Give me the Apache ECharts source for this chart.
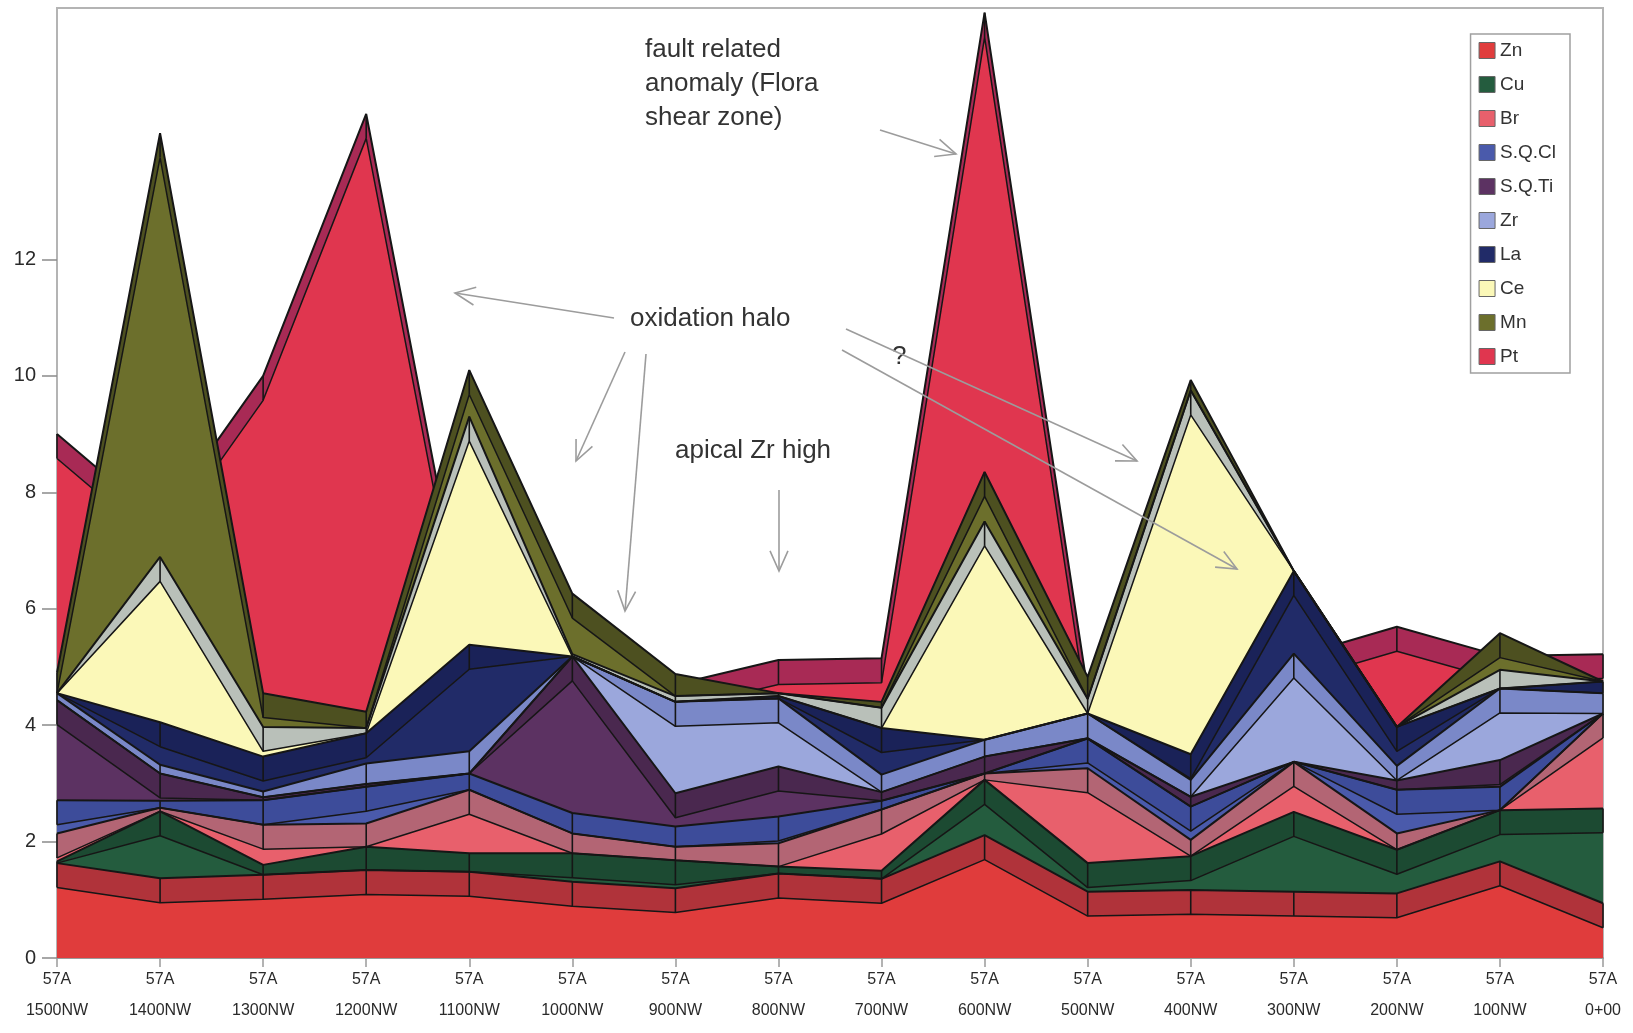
<!DOCTYPE html>
<html><head><meta charset="utf-8">
<script src="https://cdn.jsdelivr.net/npm/echarts@6/dist/echarts.min.js"></script>
<style>html,body{margin:0;padding:0;background:#fff}#c{width:1633px;height:1033px}</style>
</head><body><div id="c"></div>
<script>
// ---- data ----
const categories = ['57A\n1500NW','57A\n1400NW','57A\n1300NW','57A\n1200NW','57A\n1100NW','57A\n1000NW','57A\n900NW','57A\n800NW',
  '57A\n700NW','57A\n600NW','57A\n500NW','57A\n400NW','57A\n300NW','57A\n200NW','57A\n100NW','57A\n0+00'];
const elements = ['Zn','Cu','Br','S.Q.Cl','S.Q.Ti','Zr','La','Ce','Mn','Pt'];
// front rows (stacked)
const zn  = [1.63,1.37,1.43,1.51,1.48,1.31,1.20,1.45,1.36,2.11,1.14,1.17,1.14,1.11,1.66,0.94];
const cu  = [0.03,1.15,0.17,0.40,0.32,0.49,0.48,0.12,0.14,0.95,0.49,0.58,1.37,0.75,0.88,1.63];
const br  = [0.48,0.06,0.69,0.40,1.09,0.34,0.23,0.40,1.05,0.11,1.63,0.28,0.86,0.28,0.00,1.63];
const sqcl= [0.57,0.12,0.42,0.63,0.28,0.35,0.35,0.46,0.15,0.00,0.51,0.57,0.00,0.75,0.40,0.00];
const sqti= [1.72,0.47,0.05,0.05,0.00,2.69,0.57,0.86,0.15,0.29,0.00,0.17,0.00,0.16,0.46,0.00];
const zr  = [0.12,0.15,0.10,0.35,0.38,0.00,1.57,1.17,0.30,0.29,0.43,0.29,1.86,0.25,1.23,0.35];
const la  = [0.00,0.73,0.60,0.52,1.83,0.00,0.00,0.04,0.80,0.00,0.00,0.44,1.42,0.67,0.00,0.20];
const ce  = [0.00,2.84,0.51,0.09,3.92,0.04,0.10,0.05,0.35,3.75,0.25,6.25,0.00,0.00,0.32,0.00];
const mn  = [0.35,7.28,0.58,0.28,0.80,1.04,0.38,0.00,0.10,0.85,0.38,0.18,0.00,0.00,0.63,0.00];
// back row (drawn from zero, behind the others)
const pt  = [9.00,7.50,10.00,14.50,5.30,5.00,4.70,5.12,5.15,16.24,4.60,4.80,5.17,5.69,5.19,5.22];
const yTickValues = [0,2,4,6,8,10,12];

// ---- styles ----
const frontValues = [zn,cu,br,sqcl,sqti,zr,la,ce,mn];
const bodyColors = ['#e03c3c','#245c3e','#e8606c','#4a5aab','#5c3262','#9ba7dc','#212b68','#fbf8b8','#6c6f2c','#e0364f'];
const faceColors = ['#b0333a','#1c4a32','#b36574','#3d4c9a','#4a284f','#7a88c8','#1a2258','#b9c0b9','#4d5020','#a82a55'];
const FACE = 0.42;
const EDGE = '#161616';
const FONT = '"Liberation Sans", Arial, sans-serif';

function pair(name, vals, i, stack, z) {
  return [{
    name: name, type: 'line', stack: stack, symbol: 'none', silent: true, z: z,
    data: vals.map(v => +Math.max(v - FACE, 0).toFixed(3)),
    lineStyle: {color: EDGE, width: 1.5},
    itemStyle: {color: bodyColors[i]},
    areaStyle: {color: bodyColors[i], opacity: 1},
    emphasis: {disabled: true}
  }, {
    name: name + ' top', type: 'line', stack: stack, symbol: 'none', silent: true, z: z,
    data: vals.map(v => +Math.min(v, FACE).toFixed(3)),
    lineStyle: {color: EDGE, width: 2},
    itemStyle: {color: faceColors[i]},
    areaStyle: {color: faceColors[i], opacity: 1},
    emphasis: {disabled: true}
  }];
}
let series = [].concat(pair('Pt', pt, 9, 'back', 1));
elements.slice(0, 9).forEach((name, i) => { series = series.concat(pair(name, frontValues[i], i, 'front', 2)); });

// vertical 3D edges across each visible top face, at each category
series.push({
  type: 'custom', silent: true, z: 5,
  data: categories.map((c, i) => [i]),
  renderItem: function (params, api) {
    const idx = api.value(0);
    let cum = 0;
    const children = [];
    const seg = (top, bot) => {
      const p1 = api.coord([idx, top]), p2 = api.coord([idx, bot]);
      children.push({type: 'line', shape: {x1: p1[0], y1: p1[1], x2: p2[0], y2: p2[1]},
        style: {stroke: EDGE, lineWidth: 1.6}});
    };
    frontValues.forEach(vals => {
      const v = vals[idx];
      if (v > 0) seg(cum + v, cum + v - Math.min(v, FACE));
      cum += v;
    });
    if (pt[idx] > cum + 0.02) seg(pt[idx], Math.max(cum, pt[idx] - FACE));
    return {type: 'group', children: children};
  }
});

function arrow(x1, y1, x2, y2) {
  const ang = Math.atan2(y2 - y1, x2 - x1), L = 22, a = 0.42;
  const b1 = [x2 - L * Math.cos(ang - a), y2 - L * Math.sin(ang - a)];
  const b2 = [x2 - L * Math.cos(ang + a), y2 - L * Math.sin(ang + a)];
  return [
    {type: 'line', z: 100, shape: {x1, y1, x2, y2}, style: {stroke: '#9c9c9c', lineWidth: 1.6}},
    {type: 'polyline', z: 100, shape: {points: [b1, [x2, y2], b2]}, style: {stroke: '#9c9c9c', lineWidth: 1.6, fill: null}}
  ];
}
function label(text, x, y) {
  return {type: 'text', z: 100, x: x, y: y, style: {text: text, fill: '#333', fontSize: 26, fontFamily: FONT, verticalAlign: 'middle'}};
}
const graphics = [
  label('fault related', 645, 50), label('anomaly (Flora', 645, 84), label('shear zone)', 645, 118),
  label('oxidation halo', 630, 319), label('?', 892, 357), label('apical Zr high', 675, 451)
].concat(
  arrow(614, 318, 455, 293), arrow(625, 352, 576, 461), arrow(646, 354, 625, 611),
  arrow(779, 490, 779, 571), arrow(880, 130, 956, 154),
  arrow(846, 329, 1137, 461), arrow(842, 350, 1237, 569)
);

const chart = echarts.init(document.getElementById('c'), null, {renderer: 'canvas'});
chart.setOption({
  animation: false,
  backgroundColor: '#fff',
  grid: {left: 57, right: 30, top: 8, bottom: 75, show: true, borderColor: '#b4b4b4', borderWidth: 2, backgroundColor: 'transparent'},
  legend: {
    orient: 'vertical', right: 63, top: 34, icon: 'rect', itemWidth: 16, itemHeight: 16, itemGap: 15,
    padding: [7, 14, 7, 8], borderColor: '#a0a0a0', borderWidth: 1.5, backgroundColor: '#fff',
    textStyle: {fontSize: 19, color: '#333', fontFamily: FONT},
    itemStyle: {borderColor: '#666', borderWidth: 1},
    data: elements.map((n, i) => ({name: n, itemStyle: {color: bodyColors[i], borderColor: '#666', borderWidth: 1}})),
    selectedMode: false
  },
  xAxis: {
    type: 'category', data: categories, boundaryGap: false,
    axisLine: {show: true, lineStyle: {color: '#9a9a9a', width: 2}},
    axisTick: {show: true, length: 9, lineStyle: {color: '#9a9a9a', width: 1.5}},
    axisLabel: {color: '#2a2a2a', fontSize: 16, fontFamily: FONT, lineHeight: 31, margin: 6, interval: 0},
    splitLine: {show: false}
  },
  yAxis: {
    type: 'value', min: 0, max: 16.32, interval: 2,
    axisLine: {show: true, lineStyle: {color: '#b4b4b4', width: 2}},
    axisTick: {show: true, length: 15, lineStyle: {color: '#8a8a8a', width: 1.5}, customValues: yTickValues},
    axisLabel: {color: '#2a2a2a', fontSize: 20, fontFamily: FONT, margin: 21, customValues: yTickValues},
    splitLine: {show: false}
  },
  series: series,
  graphic: graphics
});
</script>
</body></html>
